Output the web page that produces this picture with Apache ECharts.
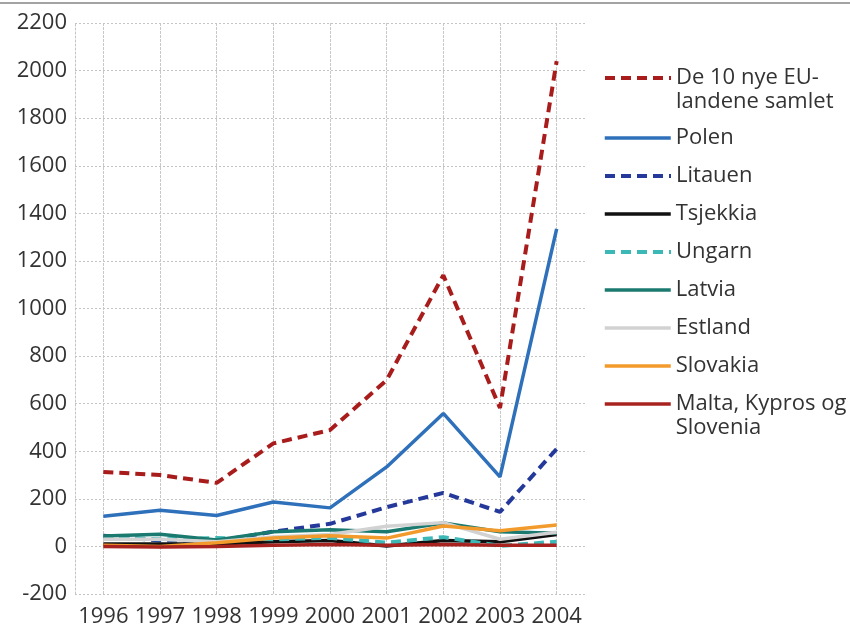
<!DOCTYPE html>
<html>
<head>
<meta charset="utf-8">
<script src="https://cdn.jsdelivr.net/npm/echarts@6/dist/echarts.min.js"></script>
<style>
html,body{margin:0;padding:0;background:#fff;}
#chart{width:850px;height:628px;}
</style>
</head>
<body>
<div id="chart"></div>
<script>
const years = ['1996','1997','1998','1999','2000','2001','2002','2003','2004'];
const yTicks = {min: -200, max: 2200, interval: 200};

const seriesNames = [
  'De 10 nye EU-\nlandene samlet',
  'Polen',
  'Litauen',
  'Tsjekkia',
  'Ungarn',
  'Latvia',
  'Estland',
  'Slovakia',
  'Malta, Kypros og\nSlovenia'
];

const total    = [313, 300, 267, 433, 489, 699, 1140, 582, 2040];
const polen    = [127, 152, 130, 187, 162, 334, 559, 292, 1335];
const litauen  = [45, 25, 22, 62, 95, 165, 225, 145, 410];
const tsjekkia = [10, 10, 10, 20, 25, 2, 25, 20, 50];
const ungarn   = [40, 30, 35, 30, 36, 16, 39, 2, 20];
const latvia   = [44, 51, 27, 62, 70, 62, 98, 62, 55];
const estland  = [30, 30, 20, 40, 50, 85, 100, 30, 60];
const slovakia = [5, 0, 15, 35, 45, 35, 86, 66, 90];
const malta    = [0, -2, 0, 5, 8, 5, 8, 5, 5];

const seriesValues = [total, polen, litauen, tsjekkia, ungarn, latvia, estland, slovakia, malta];

const styles = [
  {color:'#a81c1c', type:[10,6], width:4},
  {color:'#2f70bb', type:'solid', width:3.5},
  {color:'#24399a', type:[10,6], width:4},
  {color:'#111111', type:'solid', width:3.5},
  {color:'#3cb9b6', type:[10,6], width:4},
  {color:'#1b7a6f', type:'solid', width:3.5},
  {color:'#d2d2d2', type:'solid', width:3.5},
  {color:'#f39a2c', type:'solid', width:3.5},
  {color:'#a8231f', type:'solid', width:3.5}
];

const legendCenters = [78, 138, 176, 214, 252, 290, 328, 366, 404];

const FONT = 'Open Sans';
const gridStyle = {color:'#c4c4c4', type:[2,2], width:1};
const vGridStyle = {color:'#c8c8c8', type:[3,1], width:1};

const series = seriesNames.map((n, i) => ({
  name: n,
  type: 'line',
  data: seriesValues[i],
  symbol: 'none',
  showSymbol: false,
  smooth: false,
  lineStyle: {color: styles[i].color, type: styles[i].type, width: styles[i].width},
  itemStyle: {color: styles[i].color},
  emphasis: {disabled: true},
  animation: false
}));

const legends = seriesNames.map((n, i) => {
  const twoLine = n.indexOf('\n') >= 0;
  return {
    data: [n],
    orient: 'vertical',
    left: 603,
    top: twoLine ? legendCenters[i] - 36 : legendCenters[i] - 12,
    padding: 0,
    itemWidth: 66,
    itemHeight: 14,
    selectedMode: false,
    itemStyle: {opacity: 0},
    lineStyle: {color: styles[i].color, type: styles[i].type, width: styles[i].width},
    formatter: twoLine ? (name => '\n' + name) : (name => name),
    textStyle: {fontFamily: FONT, fontSize: 22, color: '#333', lineHeight: 24}
  };
});

const chart = echarts.init(document.getElementById('chart'), null, {renderer: 'canvas'});
chart.setOption({
  backgroundColor: '#fff',
  animation: false,
  textStyle: {fontFamily: FONT},
  graphic: [{
    type: 'rect',
    left: 0, top: 2,
    shape: {width: 850, height: 2},
    style: {fill: '#a3a3a3'},
    silent: true
  }],
  grid: {left: 75, right: 265, top: 23, bottom: 34, containLabel: false},
  legend: legends,
  xAxis: {
    type: 'category',
    data: years,
    boundaryGap: true,
    axisLine: {show: false},
    axisTick: {show: false, alignWithLabel: true},
    axisLabel: {fontFamily: FONT, fontSize: 22, color: '#333', margin: 12, interval: 0},
    splitLine: {show: true, alignWithLabel: true, interval: 0, lineStyle: vGridStyle}
  },
  yAxis: {
    type: 'value',
    min: yTicks.min, max: yTicks.max, interval: yTicks.interval,
    axisLine: {show: true, lineStyle: gridStyle},
    axisTick: {show: false},
    axisLabel: {fontFamily: FONT, fontSize: 22, color: '#333', margin: 8, formatter: v => String(v)},
    splitLine: {show: true, lineStyle: gridStyle}
  },
  series: series
});
</script>
</body>
</html>
